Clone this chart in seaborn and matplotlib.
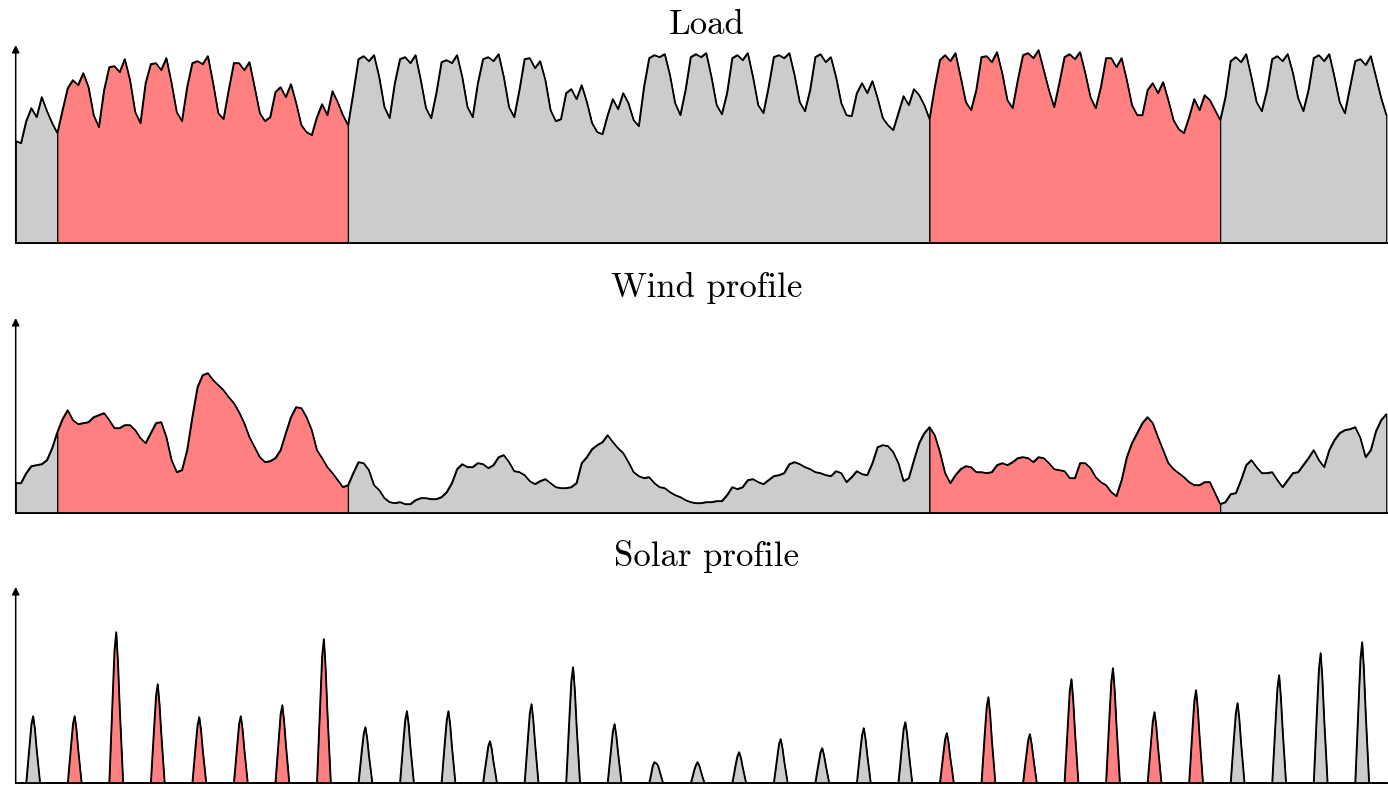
import matplotlib
matplotlib.use('Agg')
import matplotlib.pyplot as plt
import seaborn as sns
import numpy as np

sns.set_theme(style="white")
plt.rcParams['font.family'] = ['cmr10', 'DejaVu Serif']
plt.rcParams['axes.formatter.use_mathtext'] = True

RED = "#ff8080"
GRAY = "#cccccc"

# 33 days of data, time in hours; two highlighted weeks
N_HOURS = 792
WEEK_EDGES = [0, 24, 192, 528, 696, 792]

# Load, one value every 3 hours (8 per day)
LOAD_STEP = 3
LOAD = [
    102, 100, 122, 135, 126, 146, 132, 120,   # day 0
    110, 133, 155, 163, 158, 170, 156, 128,
    116, 153, 176, 177, 171, 184, 163, 131,
    120, 160, 179, 180, 173, 185, 160, 131,
    122, 156, 180, 182, 179, 187, 160, 130,
    124, 153, 180, 180, 173, 181, 156, 130,
    122, 126, 151, 156, 146, 159, 140, 118,
    111, 108, 126, 139, 128, 152, 141, 128,
    118, 150, 184, 187, 182, 188, 166, 136,   # day 8
    125, 160, 184, 186, 180, 188, 163, 135,
    125, 150, 181, 183, 180, 188, 166, 136,
    126, 160, 184, 186, 182, 189, 166, 136,
    126, 153, 184, 185, 175, 182, 163, 133,
    122, 124, 150, 154, 144, 158, 141, 120,
    111, 109, 128, 144, 134, 150, 140, 123,
    117, 156, 185, 188, 186, 189, 168, 140,
    128, 153, 186, 189, 186, 190, 166, 138,   # day 16
    129, 150, 185, 188, 183, 190, 166, 138,
    130, 156, 186, 188, 185, 190, 168, 141,
    132, 153, 186, 189, 181, 186, 166, 140,
    128, 127, 150, 160, 150, 162, 145, 125,
    118, 113, 130, 147, 138, 154, 148, 138,
    124, 156, 183, 188, 182, 190, 166, 141,
    133, 153, 186, 187, 181, 191, 170, 143,
    135, 163, 188, 190, 185, 193, 173, 153,   # day 24
    136, 160, 186, 189, 184, 191, 170, 146,
    135, 156, 185, 185, 176, 185, 163, 138,
    128, 128, 153, 160, 150, 161, 143, 123,
    114, 110, 126, 144, 133, 148, 143, 133,
    123, 146, 182, 186, 181, 189, 166, 141,
    132, 153, 184, 187, 182, 189, 170, 145,
    132, 153, 185, 188, 182, 189, 166, 141,
    130, 156, 182, 184, 178, 187, 166, 145,   # day 32
    128,
]

# Wind, one value every 3 hours (8 per day)
WIND_STEP = 3
WIND = [
    30, 30, 40, 47, 48, 49, 53, 65,           # day 0
    81, 94, 103, 93, 89, 90, 91, 96,
    98, 100, 93, 85, 85, 88, 88, 83,
    75, 70, 80, 90, 91, 76, 53, 41,
    43, 63, 96, 126, 138, 140, 133, 128,
    123, 116, 110, 101, 90, 76, 66, 56,
    51, 52, 55, 63, 80, 96, 106, 105,
    96, 83, 63, 55, 46, 40, 33, 26,
    28, 40, 51, 50, 43, 28, 23, 15,           # day 8
    11, 10, 11, 9, 9, 13, 15, 15,
    14, 14, 16, 21, 30, 44, 49, 46,
    46, 50, 49, 45, 48, 56, 58, 51,
    42, 41, 38, 32, 29, 32, 34, 30,
    26, 25, 25, 26, 30, 50, 56, 64,
    68, 71, 78, 71, 65, 60, 51, 41,
    37, 35, 36, 30, 26, 25, 21, 18,
    16, 13, 11, 10, 10, 11, 11, 12,           # day 16
    12, 18, 26, 24, 26, 33, 34, 31,
    29, 33, 37, 38, 40, 49, 51, 49,
    46, 44, 41, 40, 38, 37, 42, 40,
    31, 36, 42, 39, 38, 50, 66, 68,
    67, 61, 50, 32, 35, 53, 70, 80,
    86, 78, 61, 40, 30, 38, 44, 47,
    46, 41, 41, 40, 41, 48, 50, 48,
    51, 55, 56, 55, 51, 56, 55, 50,           # day 24
    44, 43, 42, 35, 35, 50, 50, 45,
    36, 31, 28, 21, 17, 33, 56, 70,
    80, 90, 96, 90, 76, 63, 50, 44,
    40, 36, 31, 28, 28, 31, 31, 20,
    9, 11, 19, 20, 33, 48, 53, 46,
    40, 40, 41, 33, 26, 33, 40, 41,
    48, 55, 63, 53, 46, 63, 73, 80,
    83, 84, 86, 75, 56, 63, 82, 93,           # day 32
    99,
]

# Solar, hourly values for the daylight hours of each day (zero otherwise)
SOLAR_HOURS = [7, 8, 9, 10, 11, 12, 13]
SOLAR_DAILY = [
    [20, 40, 59, 67, 54, 34, 17],
    [20, 40, 59, 67, 54, 34, 17],
    [45, 91, 133, 151, 121, 76, 38],
    [30, 59, 87, 99, 79, 50, 25],
    [20, 40, 58, 66, 53, 33, 17],
    [20, 40, 59, 67, 54, 34, 17],
    [23, 47, 69, 78, 62, 39, 20],
    [43, 86, 127, 144, 115, 72, 36],
    [17, 34, 49, 56, 45, 28, 14],
    [22, 43, 63, 72, 58, 36, 18],
    [22, 43, 63, 72, 58, 36, 18],
    [13, 25, 37, 42, 34, 21, 11],
    [24, 47, 70, 79, 63, 40, 20],
    [35, 70, 102, 116, 93, 58, 29],
    [18, 35, 52, 59, 47, 30, 15],
    [8, 17, 21, 20, 18, 12, 6],
    [6, 13, 18, 21, 17, 11, 5],
    [9, 19, 27, 31, 25, 16, 8],
    [13, 26, 39, 44, 35, 22, 11],
    [11, 21, 31, 35, 28, 18, 9],
    [17, 33, 48, 55, 44, 28, 14],
    [18, 37, 54, 61, 49, 31, 15],
    [15, 30, 44, 50, 40, 25, 13],
    [26, 52, 76, 86, 69, 43, 22],
    [15, 29, 43, 49, 39, 25, 12],
    [31, 62, 92, 104, 83, 52, 26],
    [35, 69, 101, 115, 92, 58, 29],
    [21, 43, 62, 71, 57, 36, 18],
    [28, 56, 82, 93, 74, 47, 23],
    [24, 48, 70, 80, 64, 40, 20],
    [32, 65, 95, 108, 86, 54, 27],
    [39, 78, 114, 130, 104, 65, 33],
    [42, 85, 124, 141, 113, 71, 35],
]

TITLES = ["Load", "Wind profile", "Solar profile"]


def solar_series():
    values = np.zeros(N_HOURS + 1)
    for day, vals in enumerate(SOLAR_DAILY):
        for h, v in zip(SOLAR_HOURS, vals):
            values[day * 24 + h] = v
    return np.arange(N_HOURS + 1), values


def draw_panel(ax, hours, values):
    hours = np.asarray(hours, dtype=float)
    values = np.asarray(values, dtype=float)
    for i, (a, b) in enumerate(zip(WEEK_EDGES[:-1], WEEK_EDGES[1:])):
        m = (hours >= a) & (hours <= b)
        ax.fill_between(hours[m], values[m], 0,
                        facecolor=RED if i % 2 else GRAY,
                        edgecolor='black', linewidth=0.9)
    sns.lineplot(x=hours, y=values, color='black', linewidth=1.1,
                 estimator=None, ax=ax)

    for side in ['top', 'right', 'left']:
        ax.spines[side].set_visible(False)
    ax.spines['bottom'].set_color('black')
    ax.spines['bottom'].set_linewidth(1.3)
    ax.set_xticks([])
    ax.set_yticks([])
    ax.set_xlabel('')
    ax.set_ylabel('')
    ax.annotate('', xy=(0, 1), xycoords='axes fraction',
                xytext=(0, 0), textcoords='axes fraction',
                arrowprops=dict(arrowstyle='-|>', color='black', lw=1.1,
                                mutation_scale=11, shrinkA=0, shrinkB=0),
                annotation_clip=False)


W, H = 1388, 789
fig = plt.figure(figsize=(W / 100, H / 100), dpi=100)
fig.patch.set_facecolor('white')

px_per_hour = 1.7305
x0 = 15.7
xmax = 800
# (axis bottom, axis top) in pixels from the top of the image
panels = [(243, 45), (513, 318), (783, 587)]
title_baselines = [34, 297, 566]

load_hours = np.arange(len(LOAD)) * LOAD_STEP
wind_hours = np.arange(len(WIND)) * WIND_STEP
sol_hours, sol_values = solar_series()
series = [(load_hours, LOAD), (wind_hours, WIND), (sol_hours, sol_values)]

for (bottom, top), (hrs, vals), title, tb in zip(panels, series, TITLES,
                                                   title_baselines):
    ax = fig.add_axes([x0 / W, (H - bottom) / H,
                       xmax * px_per_hour / W, (bottom - top) / H])
    ax.set_facecolor('white')
    draw_panel(ax, hrs, vals)
    ax.set_xlim(0, xmax)
    ax.set_ylim(0, bottom - top)
    fig.text(707 / W, 1 - tb / H, title, ha='center', va='baseline',
             fontsize=25, color='black')

fig.savefig("out.png", dpi=100, facecolor='white')
